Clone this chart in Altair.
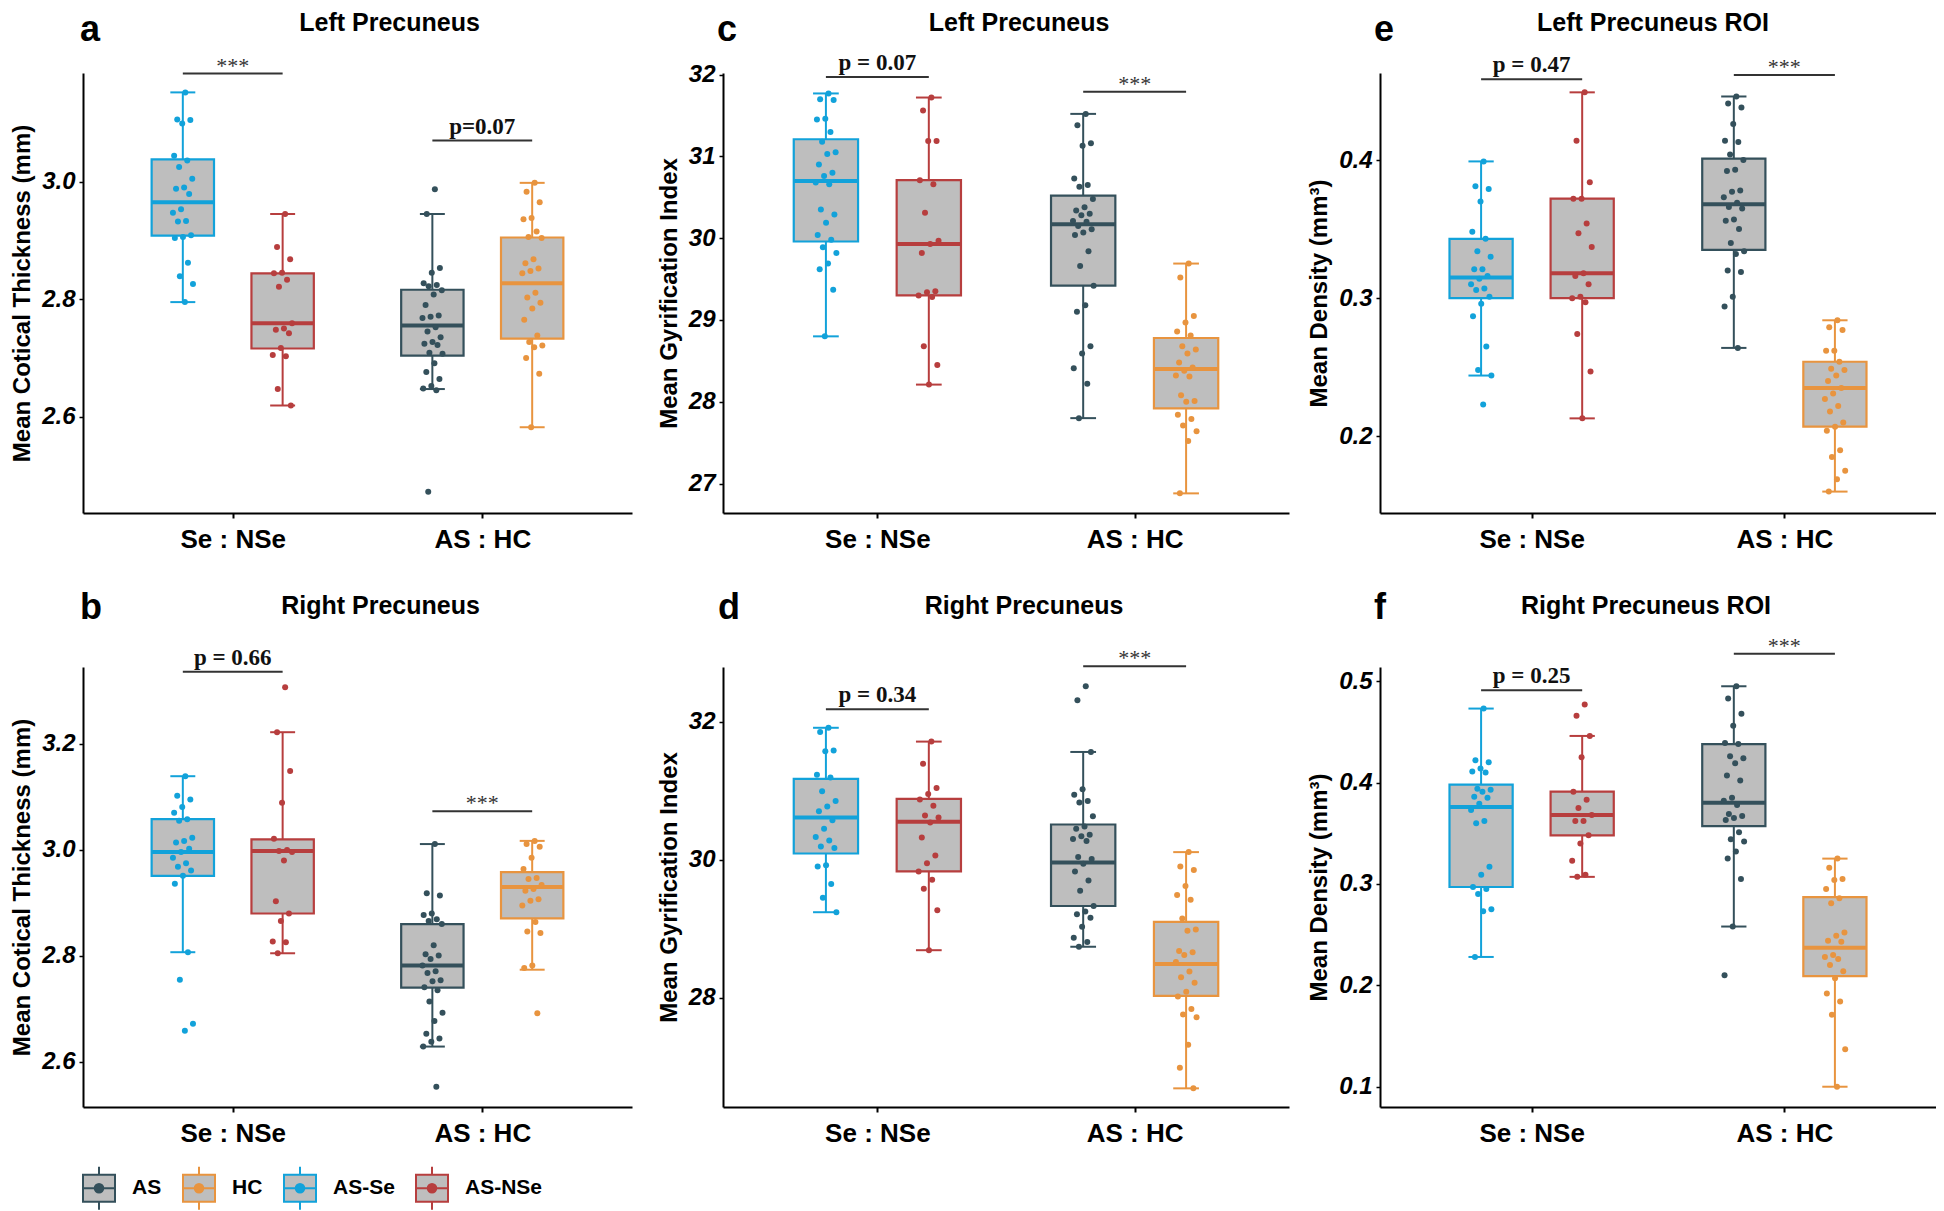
import altair as alt
import pandas as pd

GROUPS = ["AS", "HC", "AS-Se", "AS-NSe"]
COLORS = ["#34505B", "#E8943F", "#12A2DA", "#B73E3E"]
BOX_FILL = "#BEBEBE"
STAT = ["lo", "q1", "med", "q3", "hi"]

# ---------------- panel a : Left Precuneus, cortical thickness ----------------
a_as_se = [3.152, 3.106, 3.105, 3.099, 3.044, 3.036, 3.025, 3.005, 2.990, 2.988, 2.979,
           2.953, 2.947, 2.933, 2.932, 2.909, 2.906, 2.904, 2.862, 2.839, 2.826, 2.795]
a_as_nse = [2.945, 2.889, 2.868, 2.845, 2.844, 2.833, 2.821, 2.759, 2.750, 2.748, 2.742,
            2.717, 2.705, 2.703, 2.647, 2.619]
a_as = [2.987, 2.945, 2.853, 2.845, 2.827, 2.824, 2.822, 2.815, 2.808, 2.790, 2.772, 2.770,
        2.768, 2.752, 2.745, 2.735, 2.727, 2.724, 2.722, 2.709, 2.707, 2.691, 2.676, 2.664,
        2.652, 2.648, 2.645, 2.472]
a_hc = [2.998, 2.983, 2.965, 2.938, 2.936, 2.915, 2.906, 2.904, 2.868, 2.861, 2.852, 2.848,
        2.844, 2.811, 2.803, 2.794, 2.784, 2.765, 2.738, 2.727, 2.721, 2.718, 2.700, 2.673, 2.582]
a_box_as_se = [2.795, 2.908, 2.965, 3.038, 3.152]
a_box_as_nse = [2.619, 2.716, 2.759, 2.844, 2.945]
a_box_as = [2.647, 2.704, 2.755, 2.816, 2.945]
a_box_hc = [2.582, 2.733, 2.827, 2.905, 2.998]
a_sig_cat = [1, 2]
a_sig_y = [3.184, 3.070]
a_sig_label = ["***", "p=0.07"]

# ---------------- panel b : Right Precuneus, cortical thickness ----------------
b_as_se = [3.139, 3.102, 3.095, 3.081, 3.070, 3.058, 3.055, 3.023, 3.017, 3.014, 3.002,
           2.996, 2.985, 2.975, 2.968, 2.961, 2.951, 2.936, 2.807, 2.755, 2.672, 2.659]
b_as_nse = [3.307, 3.222, 3.149, 3.089, 3.021, 3.000, 2.998, 2.996, 2.980, 2.903, 2.880,
            2.866, 2.827, 2.826, 2.805]
b_as = [3.011, 2.918, 2.914, 2.880, 2.877, 2.869, 2.866, 2.860, 2.820, 2.803, 2.801, 2.794,
        2.782, 2.771, 2.768, 2.754, 2.752, 2.741, 2.735, 2.714, 2.693, 2.677, 2.653, 2.644,
        2.638, 2.629, 2.553]
b_hc = [3.017, 3.011, 3.006, 2.985, 2.964, 2.947, 2.945, 2.934, 2.926, 2.923, 2.907, 2.904,
        2.895, 2.864, 2.846, 2.843, 2.782, 2.777, 2.692]
b_box_as_se = [2.807, 2.951, 2.996, 3.058, 3.139]
b_box_as_nse = [2.805, 2.880, 2.998, 3.020, 3.222]
b_box_as = [2.629, 2.740, 2.782, 2.860, 3.011]
b_box_hc = [2.774, 2.871, 2.930, 2.958, 3.017]
b_sig_cat = [1, 2]
b_sig_y = [3.336, 3.073]
b_sig_label = ["p = 0.66", "***"]

# ---------------- panel c : Left Precuneus, gyrification ----------------
c_as_se = [31.77, 31.70, 31.69, 31.46, 31.45, 31.30, 31.18, 31.05, 31.03, 30.90, 30.80, 30.76,
           30.68, 30.66, 30.35, 30.29, 30.19, 30.04, 29.98, 29.89, 29.82, 29.69, 29.62, 29.37, 28.80]
c_as_nse = [31.72, 31.56, 31.19, 31.19, 30.71, 30.66, 30.31, 29.97, 29.93, 29.82, 29.35, 29.34,
            29.30, 29.28, 28.68, 28.45, 28.21]
c_as = [31.52, 31.38, 31.16, 31.13, 30.73, 30.65, 30.63, 30.48, 30.38, 30.34, 30.30, 30.28,
        30.21, 30.20, 30.15, 30.11, 30.07, 30.04, 29.84, 29.66, 29.42, 29.18, 29.10, 28.68,
        28.59, 28.41, 28.22, 27.80]
c_hc = [29.69, 29.52, 29.05, 28.97, 28.86, 28.81, 28.68, 28.64, 28.59, 28.48, 28.42, 28.38,
        28.32, 28.31, 28.08, 28.01, 28.00, 27.84, 27.79, 27.71, 27.64, 27.52, 26.88]
c_box_as_se = [28.80, 29.96, 30.70, 31.21, 31.77]
c_box_as_nse = [28.21, 29.30, 29.93, 30.71, 31.72]
c_box_as = [27.80, 29.42, 30.17, 30.52, 31.52]
c_box_hc = [26.88, 27.92, 28.40, 28.78, 29.69]
c_sig_cat = [1, 2]
c_sig_y = [31.97, 31.79]
c_sig_label = ["p = 0.07", "***"]

# ---------------- panel d : Right Precuneus, gyrification ----------------
d_as_se = [31.91, 31.85, 31.58, 31.57, 31.23, 31.19, 30.99, 30.85, 30.77, 30.70, 30.57, 30.45,
           30.33, 30.28, 30.19, 30.17, 29.92, 29.90, 29.65, 29.45, 29.24]
d_as_nse = [31.71, 31.39, 31.04, 30.95, 30.87, 30.78, 30.64, 30.61, 30.54, 30.32, 30.06, 29.95,
            29.83, 29.71, 29.58, 29.27, 28.69]
d_as = [32.51, 32.31, 31.56, 31.02, 30.94, 30.85, 30.83, 30.63, 30.48, 30.45, 30.36, 30.34,
        30.30, 30.27, 30.04, 30.01, 29.94, 29.83, 29.70, 29.55, 29.33, 29.25, 29.21, 29.16,
        29.03, 28.87, 28.81, 28.74]
d_hc = [30.11, 29.90, 29.85, 29.62, 29.49, 29.42, 29.15, 28.99, 28.97, 28.68, 28.66, 28.62,
        28.52, 28.38, 28.30, 28.22, 28.09, 28.02, 27.84, 27.76, 27.72, 27.32, 26.99, 26.69]
d_box_as_se = [29.24, 30.09, 30.61, 31.17, 31.91]
d_box_as_nse = [28.69, 29.83, 30.55, 30.88, 31.71]
d_box_as = [28.74, 29.33, 29.96, 30.51, 31.56]
d_box_hc = [26.69, 28.03, 28.49, 29.10, 30.11]
d_sig_cat = [1, 2]
d_sig_y = [32.18, 32.80]
d_sig_label = ["p = 0.34", "***"]

# ---------------- panel e : Left Precuneus ROI, density ----------------
e_as_se = [0.399, 0.381, 0.379, 0.370, 0.348, 0.343, 0.334, 0.330, 0.321, 0.321, 0.316, 0.314,
           0.310, 0.307, 0.306, 0.301, 0.296, 0.287, 0.265, 0.248, 0.244, 0.223]
e_as_nse = [0.449, 0.414, 0.384, 0.372, 0.372, 0.354, 0.347, 0.337, 0.318, 0.316, 0.310, 0.301,
            0.300, 0.297, 0.274, 0.247, 0.213]
e_as = [0.446, 0.441, 0.438, 0.426, 0.414, 0.413, 0.404, 0.400, 0.393, 0.392, 0.378, 0.377,
        0.373, 0.369, 0.366, 0.365, 0.357, 0.356, 0.350, 0.340, 0.334, 0.332, 0.320, 0.319,
        0.301, 0.294, 0.264]
e_hc = [0.284, 0.279, 0.277, 0.262, 0.262, 0.254, 0.249, 0.248, 0.244, 0.240, 0.235, 0.231,
        0.227, 0.222, 0.218, 0.210, 0.207, 0.204, 0.190, 0.185, 0.175, 0.169, 0.160]
e_box_as_se = [0.244, 0.300, 0.315, 0.343, 0.399]
e_box_as_nse = [0.213, 0.300, 0.318, 0.372, 0.449]
e_box_as = [0.264, 0.335, 0.368, 0.401, 0.446]
e_box_hc = [0.160, 0.207, 0.235, 0.254, 0.284]
e_sig_cat = [1, 2]
e_sig_y = [0.4585, 0.4616]
e_sig_label = ["p = 0.47", "***"]

# ---------------- panel f : Right Precuneus ROI, density ----------------
f_as_se = [0.473, 0.422, 0.420, 0.414, 0.411, 0.410, 0.394, 0.393, 0.391, 0.386, 0.385, 0.379,
           0.373, 0.362, 0.360, 0.317, 0.309, 0.297, 0.295, 0.290, 0.275, 0.273, 0.228]
f_as_nse = [0.477, 0.466, 0.446, 0.425, 0.391, 0.383, 0.375, 0.368, 0.362, 0.362, 0.348, 0.340,
            0.323, 0.309, 0.307]
f_as = [0.495, 0.483, 0.468, 0.456, 0.439, 0.438, 0.426, 0.424, 0.419, 0.407, 0.402, 0.385,
        0.382, 0.378, 0.369, 0.367, 0.365, 0.363, 0.351, 0.344, 0.342, 0.332, 0.325, 0.305,
        0.258, 0.210]
f_hc = [0.325, 0.316, 0.305, 0.304, 0.295, 0.286, 0.281, 0.252, 0.249, 0.244, 0.243, 0.230,
        0.228, 0.226, 0.220, 0.214, 0.207, 0.192, 0.184, 0.171, 0.137, 0.100]
f_box_as_se = [0.228, 0.297, 0.376, 0.398, 0.473]
f_box_as_nse = [0.307, 0.348, 0.368, 0.391, 0.446]
f_box_as = [0.258, 0.357, 0.380, 0.438, 0.495]
f_box_hc = [0.100, 0.209, 0.237, 0.287, 0.325]
f_sig_cat = [1, 2]
f_sig_y = [0.491, 0.527]
f_sig_label = ["p = 0.25", "***"]

CAT_LABELS = ["Se : NSe", "AS : HC"]

SANS = "Liberation Sans, Arial, sans-serif"
SERIF = "Liberation Serif, Times New Roman, serif"

XC = ("(datum.group == 'AS-Se' || datum.group == 'AS-NSe' ? 1 : 2)"
      " + (datum.group == 'AS-Se' || datum.group == 'AS' ? -0.2 : 0.2)")

# legend key glyph: box with median, whiskers and a dot (unit coords)
_circles = "".join(
    f"M{-r},0a{r},{r} 0 1,0 {2*r},0a{r},{r} 0 1,0 {-2*r},0" for r in (0.06, 0.13, 0.2, 0.27)
)
KEY_PATH = "M-1,-0.84H1V0.84H-1Z M0,-0.84V-1.34 M0,0.84V1.34 M-1,0H1 " + _circles

color_scale = alt.Scale(domain=GROUPS, range=COLORS)


def make_panel(points, boxes, sig_cat, sig_y, sig_label, domain, ticks, fmt, ytitle,
               title, letter, width, title_dx, title_y, letter_dx, letter_y, legend):
    pts = pd.DataFrame([{"group": g, "value": v} for g, vals in points.items() for v in vals])
    bx = pd.DataFrame([dict(group=g, **dict(zip(STAT, s))) for g, s in boxes.items()])
    sg = pd.DataFrame({"cat": sig_cat, "y": sig_y, "label": sig_label})

    xscale = alt.Scale(domain=[0.4, 2.6], nice=False, zero=False)
    yscale = alt.Scale(domain=domain, nice=False, zero=False)
    color = alt.Color("group:N", scale=color_scale, legend=None)

    xaxis = alt.Axis(values=[1, 2],
                     labelExpr=f"datum.value == 1 ? '{CAT_LABELS[0]}' : '{CAT_LABELS[1]}'",
                     title=None, grid=False, labelFont=SANS, labelFontSize=26,
                     labelFontWeight="bold", labelColor="black", tickSize=5, tickWidth=2,
                     tickColor="black", domainColor="black", domainWidth=2, labelPadding=8,
                     labelFlush=False)
    yaxis = alt.Axis(values=ticks, format=fmt, title=ytitle, grid=False, labelFont=SANS,
                     labelFontSize=24, labelFontWeight="bold", labelFontStyle="italic",
                     labelColor="black", tickSize=4, tickWidth=1.5, tickColor="black",
                     domainColor="black", domainWidth=2, labelPadding=4, titleFont=SANS,
                     titleFontSize=24, titleFontWeight="bold", titleColor="black",
                     titlePadding=7, labelFlush=False)

    box_base = alt.Chart(bx).transform_calculate(xc=XC).transform_calculate(
        xl="datum.xc - 0.125", xr="datum.xc + 0.125",
        cl="datum.xc - 0.05", cr="datum.xc + 0.05")

    whisk = box_base.mark_rule(strokeWidth=2).encode(
        x=alt.X("xc:Q", scale=xscale, axis=xaxis),
        y=alt.Y("lo:Q", scale=yscale, axis=yaxis),
        y2="hi:Q", color=color)
    caps = box_base.transform_fold(["lo", "hi"], as_=["k", "v"]).mark_rule(strokeWidth=2).encode(
        x=alt.X("cl:Q", scale=xscale), x2="cr:Q",
        y=alt.Y("v:Q", scale=yscale), color=color)
    rect = box_base.mark_rect(fill=BOX_FILL, strokeWidth=2.2).encode(
        x=alt.X("xl:Q", scale=xscale), x2="xr:Q",
        y=alt.Y("q1:Q", scale=yscale), y2="q3:Q",
        stroke=alt.Stroke("group:N", scale=color_scale, legend=legend))
    med = box_base.mark_rule(strokeWidth=4).encode(
        x=alt.X("xl:Q", scale=xscale), x2="xr:Q",
        y=alt.Y("med:Q", scale=yscale), color=color)
    dots = alt.Chart(pts).transform_window(
        rn="row_number()", groupby=["group"]).transform_calculate(xc=XC).transform_calculate(
        xj="datum.xc + ((datum.rn * 0.6180339887) % 1 - 0.5) * 0.085").mark_circle(
        size=36, opacity=1).encode(
        x=alt.X("xj:Q", scale=xscale),
        y=alt.Y("value:Q", scale=yscale), color=color)
    br = alt.Chart(sg).transform_calculate(x1="datum.cat - 0.2", x2="datum.cat + 0.2").mark_rule(
        color="#333333", strokeWidth=2).encode(
        x=alt.X("x1:Q", scale=xscale), x2="x2:Q",
        y=alt.Y("y:Q", scale=yscale))
    stars = alt.Chart(sg).transform_filter("datum.label == '***'").mark_text(
        font=SERIF, fontSize=22, color="#333333", baseline="alphabetic", dy=-1).encode(
        x=alt.X("cat:Q", scale=xscale),
        y=alt.Y("y:Q", scale=yscale), text="label:N")
    pv = alt.Chart(sg).transform_filter("datum.label != '***'").mark_text(
        font=SERIF, fontSize=23, fontWeight="bold", color="#111111", baseline="alphabetic",
        dy=-7).encode(
        x=alt.X("cat:Q", scale=xscale),
        y=alt.Y("y:Q", scale=yscale), text="label:N")
    ttl = alt.Chart(pd.DataFrame({"t": [title]})).mark_text(
        font=SANS, fontSize=25, fontWeight="bold", color="black", baseline="alphabetic",
        align="center").encode(x=alt.value(width / 2 + title_dx), y=alt.value(title_y), text="t:N")
    let = alt.Chart(pd.DataFrame({"t": [letter]})).mark_text(
        font=SANS, fontSize=36, fontWeight="bold", color="black", baseline="alphabetic",
        align="center").encode(x=alt.value(letter_dx), y=alt.value(letter_y), text="t:N")

    return alt.layer(whisk, caps, rect, med, dots, br, stars, pv, ttl, let).properties(
        width=width, height=440)


legend = alt.Legend(orient="none", legendX=-1, legendY=504, direction="horizontal", title=None,
                    symbolType=KEY_PATH, symbolSize=1024, symbolFillColor=BOX_FILL,
                    symbolStrokeWidth=2, symbolOpacity=1, labelFont=SANS, labelFontSize=21,
                    labelFontWeight="bold", labelColor="black", labelOffset=16,
                    columnPadding=17)

W1, W2, W3 = 549, 566, 556

pa = make_panel({"AS-Se": a_as_se, "AS-NSe": a_as_nse, "AS": a_as, "HC": a_hc},
                {"AS-Se": a_box_as_se, "AS-NSe": a_box_as_nse, "AS": a_box_as, "HC": a_box_hc},
                a_sig_cat, a_sig_y, a_sig_label, [2.436, 3.185], [2.6, 2.8, 3.0], ".1f",
                "Mean Cotical Thickness (mm)", "Left Precuneus", "a", W1, 32, -42, 7, -32, None)
pb = make_panel({"AS-Se": b_as_se, "AS-NSe": b_as_nse, "AS": b_as, "HC": b_hc},
                {"AS-Se": b_box_as_se, "AS-NSe": b_box_as_nse, "AS": b_box_as, "HC": b_box_hc},
                b_sig_cat, b_sig_y, b_sig_label, [2.515, 3.345], [2.6, 2.8, 3.0, 3.2], ".1f",
                "Mean Cotical Thickness (mm)", "Right Precuneus", "b", W1, 23, -53, 8, -48, legend)
pc = make_panel({"AS-Se": c_as_se, "AS-NSe": c_as_nse, "AS": c_as, "HC": c_hc},
                {"AS-Se": c_box_as_se, "AS-NSe": c_box_as_nse, "AS": c_box_as, "HC": c_box_hc},
                c_sig_cat, c_sig_y, c_sig_label, [26.64, 32.02], [27, 28, 29, 30, 31, 32], "d",
                "Mean Gyrification Index", "Left Precuneus", "c", W2, 13, -42, 4, -32, None)
pd_ = make_panel({"AS-Se": d_as_se, "AS-NSe": d_as_nse, "AS": d_as, "HC": d_hc},
                 {"AS-Se": d_box_as_se, "AS-NSe": d_box_as_nse, "AS": d_box_as, "HC": d_box_hc},
                 d_sig_cat, d_sig_y, d_sig_label, [26.42, 32.79], [28, 30, 32], "d",
                 "Mean Gyrification Index", "Right Precuneus", "d", W2, 18, -53, 6, -48, None)
pe = make_panel({"AS-Se": e_as_se, "AS-NSe": e_as_nse, "AS": e_as, "HC": e_hc},
                {"AS-Se": e_box_as_se, "AS-NSe": e_box_as_nse, "AS": e_box_as, "HC": e_box_hc},
                e_sig_cat, e_sig_y, e_sig_label, [0.1445, 0.463], [0.2, 0.3, 0.4], ".1f",
                "Mean Density (mm³)", "Left Precuneus ROI", "e", W3, -5, -42, 4, -32, None)
pf = make_panel({"AS-Se": f_as_se, "AS-NSe": f_as_nse, "AS": f_as, "HC": f_hc},
                {"AS-Se": f_box_as_se, "AS-NSe": f_box_as_nse, "AS": f_box_as, "HC": f_box_hc},
                f_sig_cat, f_sig_y, f_sig_label, [0.080, 0.514], [0.1, 0.2, 0.3, 0.4, 0.5], ".1f",
                "Mean Density (mm³)", "Right Precuneus ROI", "f", W3, -12, -53, 0, -48, None)

chart = alt.concat(pa, pc, pe, pb, pd_, pf, columns=3, bounds="flush",
                   spacing={"row": 154, "column": 91}).resolve_legend(
    stroke="independent").properties(
    padding={"left": 2, "top": 3, "right": 0, "bottom": 5}
).configure(background="white").configure_view(stroke=None)

chart.save("out.html", embed_options={"renderer": "svg", "actions": False})
